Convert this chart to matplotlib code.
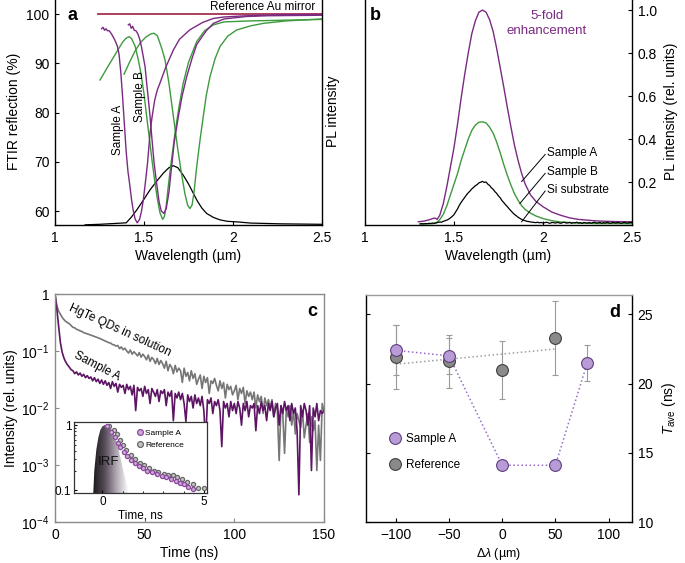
import numpy as np
import matplotlib
matplotlib.use("Agg")
import matplotlib.pyplot as plt
from matplotlib.colors import LinearSegmentedColormap
from matplotlib.ticker import FixedLocator, NullLocator, NullFormatter

plt.rcParams['font.family'] = ['Liberation Sans', 'DejaVu Sans']
plt.rcParams['font.size'] = 10
plt.rcParams['mathtext.fontset'] = 'custom'
plt.rcParams['mathtext.rm'] = 'Liberation Sans'
plt.rcParams['mathtext.it'] = 'Liberation Sans:italic'
plt.rcParams['mathtext.sf'] = 'Liberation Sans'
plt.rcParams['xtick.direction'] = 'in'
plt.rcParams['ytick.direction'] = 'in'
plt.rcParams['xtick.major.size'] = 3
plt.rcParams['ytick.major.size'] = 3
plt.rcParams['xtick.major.pad'] = 4
plt.rcParams['ytick.major.pad'] = 4
plt.rcParams['axes.linewidth'] = 1.0

# ---------------- panel a data (FTIR reflection) ----------------
ref_au_x = [1.24, 2.5]
ref_au_y = [100.0, 100.0]

purpleA_x = [1.262, 1.270, 1.278, 1.286, 1.295, 1.305, 1.32, 1.335, 1.35, 1.36, 1.37, 1.38, 1.39, 1.40,
             1.41, 1.42, 1.43, 1.44, 1.45, 1.462, 1.475, 1.485, 1.496, 1.51, 1.52, 1.534, 1.545, 1.56,
             1.575, 1.59, 1.62, 1.665, 1.70, 1.758, 1.83, 1.89, 1.95, 2.05, 2.17, 2.3, 2.5]
purpleA_y = [97.0, 97.3, 96.7, 97.0, 96.6, 96.6, 95.8, 94.8, 93.5, 91.8, 88.0, 83.0, 77.5, 72.0,
             68.0, 65.3, 62.3, 60.0, 58.4, 57.6, 58.3, 59.8, 62.2, 66.5, 69.8, 75.8, 79.0, 82.5,
             84.6, 86.0, 89.0, 92.7, 94.9, 96.8, 98.3, 99.1, 99.4, 99.6, 99.75, 99.85, 99.9]

purpleB_x = [1.412, 1.42, 1.428, 1.436, 1.445, 1.455, 1.465, 1.475, 1.485, 1.495, 1.506, 1.515, 1.525,
             1.534, 1.545, 1.556, 1.571, 1.585, 1.597, 1.612, 1.625, 1.64, 1.655, 1.67, 1.693, 1.715,
             1.74, 1.77, 1.796, 1.815, 1.85, 1.89, 1.95, 2.077, 2.2, 2.35, 2.5]
purpleB_y = [97.8, 98.0, 97.1, 97.5, 96.7, 96.6, 96.0, 95.0, 93.5, 91.5, 89.3, 86.0, 82.5,
             79.2, 74.5, 70.0, 65.6, 61.8, 60.0, 59.5, 60.5, 63.8, 69.0, 74.0, 79.2, 83.5,
             87.3, 91.0, 93.8, 94.8, 96.6, 98.1, 99.0, 99.5, 99.65, 99.7, 99.75]

greenA_x = [1.253, 1.30, 1.35, 1.38, 1.40, 1.416, 1.43, 1.45, 1.468, 1.48, 1.49, 1.50, 1.515, 1.53,
            1.545, 1.562, 1.575, 1.59, 1.605, 1.615, 1.625, 1.636, 1.65, 1.674, 1.695, 1.72, 1.75,
            1.796, 1.84, 1.89, 1.95, 2.1, 2.5]
greenA_y = [86.6, 89.5, 92.5, 94.3, 95.1, 95.4, 95.0, 93.5, 90.7, 88.5, 86.2, 83.8, 79.2, 74.8,
            70.3, 65.6, 62.5, 59.6, 58.3, 58.9, 61.2, 64.9, 69.2, 75.8, 80.8, 85.9, 90.2,
            94.4, 96.6, 97.8, 98.4, 98.6, 98.9]

greenB_x = [1.388, 1.42, 1.45, 1.48, 1.51, 1.535, 1.556, 1.575, 1.6, 1.618, 1.64, 1.665, 1.69, 1.71,
            1.73, 1.745, 1.758, 1.77, 1.78, 1.796, 1.815, 1.833, 1.85, 1.871, 1.9, 1.927, 1.97,
            2.02, 2.1, 2.17, 2.3, 2.5]
greenB_y = [87.8, 90.3, 92.5, 94.2, 95.3, 95.9, 96.1, 95.6, 93.0, 90.7, 86.0, 79.2, 72.5, 67.7,
            63.5, 61.2, 60.5, 61.2, 63.5, 69.0, 74.5, 79.2, 83.5, 87.3, 91.0, 93.4, 95.5,
            96.75, 97.6, 98.1, 98.6, 99.0]

plA_x = [1.169, 1.25, 1.35, 1.40, 1.41, 1.43, 1.459, 1.50, 1.534, 1.57, 1.609, 1.64, 1.665, 1.69,
         1.72, 1.75, 1.777, 1.80, 1.825, 1.852, 1.89, 1.927, 1.97, 2.02, 2.1, 2.264, 2.5]
plA_y = [57.2, 57.3, 57.5, 57.6, 58.0, 58.8, 60.2, 62.4, 64.3, 66.0, 67.7, 68.8, 69.2, 68.8,
         67.3, 65.5, 63.6, 62.0, 60.6, 59.5, 58.7, 58.2, 57.9, 57.8, 57.55, 57.4, 57.3]

# ---------------- panel b data (PL spectra) ----------------
plSampleA_x = [1.30, 1.33, 1.36, 1.384, 1.395, 1.405, 1.42, 1.44, 1.46, 1.48, 1.50, 1.52, 1.54, 1.56,
               1.58, 1.60, 1.62, 1.64, 1.66, 1.68, 1.70, 1.72, 1.74, 1.76, 1.78, 1.80, 1.82, 1.84,
               1.86, 1.88, 1.90, 1.93, 1.96, 2.00, 2.05, 2.10, 2.15, 2.20, 2.30, 2.40, 2.50]
plSampleA_y = [0.015, 0.018, 0.024, 0.031, 0.032, 0.026, 0.045, 0.10, 0.18, 0.27, 0.36, 0.47, 0.59, 0.70,
               0.80, 0.89, 0.95, 0.99, 1.0, 0.99, 0.955, 0.90, 0.82, 0.73, 0.64, 0.545, 0.455, 0.37,
               0.30, 0.24, 0.19, 0.14, 0.11, 0.085, 0.06, 0.045, 0.033, 0.026, 0.019, 0.016, 0.015]

plSampleB_x = [1.31, 1.35, 1.38, 1.40, 1.42, 1.44, 1.46, 1.48, 1.50, 1.52, 1.54, 1.56, 1.58, 1.60,
               1.62, 1.64, 1.66, 1.68, 1.70, 1.72, 1.74, 1.76, 1.78, 1.80, 1.82, 1.84, 1.86, 1.88,
               1.90, 1.93, 1.96, 2.00, 2.05, 2.10, 2.20, 2.30, 2.50]
plSampleB_y = [0.005, 0.005, 0.006, 0.01, 0.025, 0.05, 0.09, 0.14, 0.19, 0.24, 0.30, 0.35, 0.40, 0.44,
               0.465, 0.478, 0.48, 0.475, 0.455, 0.427, 0.385, 0.335, 0.28, 0.23, 0.185, 0.145, 0.115, 0.09,
               0.072, 0.055, 0.042, 0.03, 0.02, 0.014, 0.009, 0.007, 0.006]

si_start, si_step = 1.31, 0.01
si_y = [0.005, 0.006, 0.005, 0.007, 0.006, 0.008, 0.007, 0.009, 0.008, 0.010,
        0.012, 0.014, 0.013, 0.017, 0.020, 0.023, 0.027, 0.033, 0.040, 0.048,
        0.062, 0.075, 0.092, 0.105, 0.117, 0.128, 0.140, 0.150, 0.158, 0.168,
        0.175, 0.183, 0.188, 0.196, 0.199, 0.203, 0.198, 0.200, 0.190, 0.184,
        0.173, 0.166, 0.155, 0.147, 0.135, 0.126, 0.113, 0.104, 0.094, 0.085,
        0.075, 0.066, 0.057, 0.049, 0.043, 0.036, 0.031, 0.026, 0.022, 0.020,
        0.017, 0.016, 0.014, 0.013, 0.012,
        0.011, 0.013, 0.010, 0.012, 0.009, 0.011, 0.013, 0.010, 0.008, 0.012,
        0.011, 0.009, 0.012, 0.010, 0.008, 0.011, 0.013, 0.009, 0.010, 0.012,
        0.008, 0.011, 0.010, 0.013, 0.009, 0.011, 0.007, 0.012, 0.010, 0.009,
        0.012, 0.008, 0.011, 0.013, 0.009, 0.010, 0.012, 0.008, 0.011, 0.009,
        0.013, 0.010, 0.008, 0.012, 0.011, 0.009, 0.013, 0.010, 0.008, 0.011,
        0.012, 0.009, 0.010, 0.012, 0.011]

# ---------------- panel c data (decays, 1 ns steps) ----------------
hgte_solution = [1.0, 0.63, 0.5, 0.44, 0.39, 0.355, 0.33, 0.315, 0.3, 0.28,
                 0.26, 0.255, 0.24, 0.235, 0.225, 0.22, 0.21, 0.205, 0.2, 0.195,
                 0.19, 0.185, 0.18, 0.175, 0.17, 0.166, 0.16, 0.155, 0.15, 0.145,
                 0.14, 0.138, 0.13, 0.128, 0.122, 0.125, 0.11, 0.118, 0.105, 0.112,
                 0.1, 0.092, 0.104, 0.088, 0.097, 0.09, 0.082, 0.094, 0.078, 0.088,
                 0.08, 0.07, 0.085, 0.066, 0.077, 0.071, 0.06, 0.074, 0.058, 0.068,
                 0.06, 0.05, 0.066, 0.045, 0.058, 0.052, 0.04, 0.056, 0.043, 0.05,
                 0.045, 0.028, 0.05, 0.036, 0.042, 0.03, 0.045, 0.033, 0.04, 0.026,
                 0.032, 0.038, 0.022, 0.036, 0.028, 0.034, 0.018, 0.03, 0.027, 0.033,
                 0.025, 0.02, 0.03, 0.022, 0.028, 0.015, 0.026, 0.021, 0.024, 0.017,
                 0.02, 0.025, 0.014, 0.022, 0.018, 0.023, 0.012, 0.02, 0.016, 0.019,
                 0.014, 0.019, 0.01, 0.017, 0.013, 0.016, 0.008, 0.015, 0.011, 0.014,
                 0.01, 0.014, 0.007, 0.012, 0.009, 0.0012, 0.011, 0.008, 0.0016, 0.01,
                 0.007, 0.011, 0.005, 0.009, 0.0035, 0.008, 0.006, 0.0045, 0.009, 0.003,
                 0.005, 0.008, 0.0025, 0.007, 0.004, 0.006, 0.0008, 0.005, 0.0012, 0.012,
                 0.009]
sampleA_decay = [1.0, 0.55, 0.28, 0.14, 0.095, 0.075, 0.064, 0.057, 0.052, 0.047,
                 0.045, 0.04, 0.043, 0.038, 0.041, 0.036, 0.039, 0.034, 0.037, 0.033,
                 0.035, 0.03, 0.034, 0.029, 0.032, 0.027, 0.031, 0.026, 0.03, 0.025,
                 0.028, 0.022, 0.029, 0.024, 0.027, 0.019, 0.026, 0.023, 0.025, 0.018,
                 0.026, 0.021, 0.024, 0.017, 0.025, 0.009, 0.023, 0.02, 0.022, 0.016,
                 0.024, 0.018, 0.021, 0.012, 0.022, 0.019, 0.016, 0.021, 0.013, 0.02,
                 0.018, 0.021, 0.011, 0.019, 0.016, 0.02, 0.006, 0.018, 0.015, 0.019,
                 0.014, 0.018, 0.012, 0.0058, 0.017, 0.013, 0.016, 0.01, 0.017, 0.012,
                 0.015, 0.011, 0.016, 0.009, 0.0025, 0.014, 0.012, 0.015, 0.008, 0.013,
                 0.011, 0.014, 0.009, 0.0021, 0.013, 0.01, 0.012, 0.007, 0.013, 0.009,
                 0.012, 0.008, 0.013, 0.01, 0.005, 0.012, 0.009, 0.013, 0.007, 0.011,
                 0.01, 0.012, 0.004, 0.011, 0.008, 0.013, 0.009, 0.011, 0.006, 0.012,
                 0.009, 0.013, 0.007, 0.01, 0.012, 0.005, 0.011, 0.008, 0.013, 0.009,
                 0.011, 0.006, 0.012, 0.008, 0.01, 0.004, 0.0003, 0.011, 0.007, 0.012,
                 0.009, 0.005, 0.011, 0.0008, 0.01, 0.007, 0.012, 0.006, 0.009, 0.008,
                 0.009]

# inset data
inset_A_t = [0.22, 0.44, 0.6, 0.75, 0.88, 1.04, 1.21, 1.4, 1.62, 1.78, 1.99, 2.19, 2.43, 2.68,
             2.92, 3.14, 3.37, 3.61, 3.82, 4.04, 4.23, 4.44]
inset_A_i = [0.97, 0.79, 0.66, 0.54, 0.46, 0.39, 0.34, 0.29, 0.26, 0.234, 0.215, 0.198, 0.187, 0.176,
             0.164, 0.157, 0.148, 0.138, 0.13, 0.124, 0.112, 0.103]
inset_R_t = [0.3, 0.56, 0.72, 0.85, 1.01, 1.18, 1.4, 1.62, 1.83, 2.06, 2.27, 2.52, 2.76, 3.01,
             3.25, 3.46, 3.66, 3.9, 4.15, 4.48, 4.72, 5.0]
inset_R_i = [0.97, 0.84, 0.73, 0.60, 0.49, 0.41, 0.345, 0.296, 0.263, 0.24, 0.215, 0.198, 0.187, 0.174,
             0.17, 0.17, 0.16, 0.148, 0.134, 0.126, 0.106, 0.106]
irf_t = [-0.45, -0.4, -0.3, -0.2, -0.1, 0.0, 0.1, 0.2, 0.3, 0.4, 0.5, 0.6, 0.7, 0.8, 0.9, 1.0, 1.1, 1.2, 1.3]
irf_i = [0.09, 0.2, 0.42, 0.65, 0.85, 0.96, 1.0, 1.0, 0.97, 0.9, 0.8, 0.68, 0.55, 0.42, 0.3, 0.22, 0.16, 0.12, 0.09]

# ---------------- panel d data ----------------
d_sampleA_x = [-100, -50, 0, 50, 80]
d_sampleA_y = [22.4, 22.0, 14.1, 14.1, 21.5]
d_sampleA_err = [1.8, 1.3, 0.0, 0.0, 1.3]
d_ref_x = [-100, -50, 0, 50]
d_ref_y = [21.9, 21.6, 21.0, 23.3]
d_ref_err = [2.3, 1.9, 2.1, 2.7]
d_fit_x = [-100, 50]
d_fit_y = [21.4, 22.5]

# ---------------- colours ----------------
PURPLE = '#7a2a82'
GREEN = '#3d9a3d'
MAROON = '#a53050'
DPURPLE = '#5c1463'
GREY = '#767676'

fig = plt.figure(figsize=(6.85, 5.63), dpi=100)
W, H = 685.0, 563.0


def ax_px(l, t, r, b):
    return fig.add_axes([l / W, 1 - b / H, (r - l) / W, (b - t) / H])


# ======== panel a ========
ax = ax_px(55, -2, 322, 225)
ax.plot(ref_au_x, ref_au_y, color=MAROON, lw=1.3)
ax.plot(plA_x, plA_y, color='black', lw=0.9)
ax.plot(greenA_x, greenA_y, color=GREEN, lw=1.0)
ax.plot(greenB_x, greenB_y, color=GREEN, lw=1.0)
ax.plot(purpleA_x, purpleA_y, color=PURPLE, lw=1.0)
ax.plot(purpleB_x, purpleB_y, color=PURPLE, lw=1.0)
ax.set_xlim(1, 2.5)
ax.set_ylim(57.16, 103.25)
ax.xaxis.set_major_locator(FixedLocator([1, 1.5, 2, 2.5]))
ax.set_xticklabels(['1', '1.5', '2', '2.5'])
ax.yaxis.set_major_locator(FixedLocator([60, 70, 80, 90, 100]))
ax.set_xlabel('Wavelength (µm)', labelpad=3)
ax.set_ylabel('FTIR reflection (%)', labelpad=4)
ax.text(2.46, 101.45, 'Reference Au mirror', ha='right', va='center', fontsize=8.5)
ax.text(1.356, 76.4, 'Sample A', rotation=90, ha='center', va='center', fontsize=8.5)
ax.text(1.478, 83.2, 'Sample B', rotation=90, ha='center', va='center', fontsize=8.5)
ax.text(0.064, 0.925, 'a', transform=ax.transAxes, fontsize=13, fontweight='bold', ha='center', va='center')

# ======== panel b ========
bx = ax_px(365, -2, 632, 225)
si_x = [si_start + si_step * i for i in range(len(si_y))]
bx.plot(plSampleA_x, plSampleA_y, color=PURPLE, lw=1.0)
bx.plot(plSampleB_x, plSampleB_y, color=GREEN, lw=1.0)
bx.plot(si_x, si_y, color='black', lw=0.9)
bx.set_xlim(1, 2.5)
bx.set_ylim(0, 1.056)
bx.xaxis.set_major_locator(FixedLocator([1, 1.5, 2, 2.5]))
bx.set_xticklabels(['1', '1.5', '2', '2.5'])
bx.yaxis.tick_right()
bx.yaxis.set_label_position('right')
bx.yaxis.set_major_locator(FixedLocator([0.2, 0.4, 0.6, 0.8, 1.0]))
bx.set_yticklabels(['0.2', '0.4', '0.6', '0.8', '1.0'])
bx.tick_params(axis='y', left=False, right=True)
bx.set_xlabel('Wavelength (µm)', labelpad=3)
bx.set_ylabel('PL intensity (rel. units)', labelpad=5)
bx.text(-0.12, 0.5, 'PL intensity', rotation=90, transform=bx.transAxes, ha='center', va='center')
bx.text(2.02, 0.937, '5-fold\nenhancement', color=PURPLE, ha='center', va='center', fontsize=9.5,
        linespacing=1.3)
for lbl, ty, (x0, y0) in [('Sample A', 0.333, (1.88, 0.202)),
                          ('Sample B', 0.245, (1.87, 0.10)),
                          ('Si substrate', 0.163, (1.88, 0.015))]:
    bx.plot([x0, 2.012], [y0, ty - 0.005], color='black', lw=0.7)
    bx.text(2.025, ty, lbl, ha='left', va='center', fontsize=8.5)
bx.text(0.037, 0.925, 'b', transform=bx.transAxes, fontsize=13, fontweight='bold', ha='center', va='center')

# ======== panel c ========
cx = ax_px(55, 294, 324, 522)
cx.plot(list(range(len(hgte_solution))), hgte_solution, color=GREY, lw=1.2)
cx.plot(list(range(len(sampleA_decay))), sampleA_decay, color=DPURPLE, lw=1.2)
cx.set_yscale('log')
cx.set_xlim(0, 150)
cx.set_ylim(1e-4, 1)
cx.yaxis.set_major_locator(FixedLocator([1e-4, 1e-3, 1e-2, 1e-1, 1]))
cx.yaxis.set_minor_locator(NullLocator())
cx.set_yticklabels([r'10$^{-4}$', r'10$^{-3}$', r'10$^{-2}$', r'10$^{-1}$', '1'])
cx.xaxis.set_major_locator(FixedLocator([0, 50, 100, 150]))
for sp in cx.spines.values():
    sp.set_color('#8a8a8a')
cx.tick_params(colors='#8a8a8a', labelcolor='black')
cx.set_xlabel('Time (ns)', labelpad=3)
cx.set_ylabel('Intensity (rel. units)', labelpad=2)
cx.text(36.2, 0.233, 'HgTe QDs in solution', rotation=-24.5, rotation_mode='anchor',
        ha='center', va='center', fontsize=8.5)
cx.text(23.7, 0.055, 'Sample A', rotation=-27.5, rotation_mode='anchor',
        ha='center', va='center', fontsize=8.5)
cx.text(0.955, 0.925, 'c', transform=cx.transAxes, fontsize=13, fontweight='bold', ha='center', va='center')

# inset
ix = ax_px(74, 422, 207, 493)
ix.set_yscale('log')
cmap = LinearSegmentedColormap.from_list('irf', ['#1c1c1c', '#5a4f5e', '#b5aeb8', '#ffffff'])
fb = ix.fill_between(irf_t, 0.01, irf_i, color='none', lw=0)
grad = np.linspace(0, 1, 256).reshape(1, -1)
im = ix.imshow(grad, extent=[irf_t[0], irf_t[-1], 0.05, 1.2], aspect='auto', cmap=cmap, zorder=1,
               interpolation='bilinear')
im.set_clip_path(fb.get_paths()[0], ix.transData)
ix.set_xlim(-1.4, 5.15)
ix.set_ylim(0.09, 1.12)
ix.plot(inset_R_t, inset_R_i, 'o', ms=3.0, mfc='#c4c4c4', mec='#686868', mew=0.9, ls='none',
        label='Reference', zorder=3)
ix.plot(inset_A_t, inset_A_i, 'o', ms=3.0, mfc='#cfa9dc', mec='#8c4b9c', mew=0.9, ls='none',
        label='Sample A', zorder=4)
h, l = ix.get_legend_handles_labels()
ix.legend(h[::-1], l[::-1], loc='upper left', bbox_to_anchor=(0.44, 0.97), frameon=False, fontsize=6,
          handlelength=0.6, handletextpad=0.3, borderpad=0.1, labelspacing=0.45, markerscale=1.4)
ix.text(0.3, 0.27, 'IRF', ha='center', va='center', fontsize=9.5, color='#111111', zorder=5)
ix.xaxis.set_major_locator(FixedLocator([0, 5]))
ix.xaxis.set_minor_locator(FixedLocator([1, 2, 3, 4]))
ix.yaxis.set_major_locator(FixedLocator([0.1, 1]))
ix.yaxis.set_minor_locator(FixedLocator([0.2, 0.3, 0.4, 0.5, 0.6, 0.7, 0.8, 0.9]))
ix.yaxis.set_minor_formatter(NullFormatter())
ix.set_yticklabels(['0.1', '1'])
ix.set_xticklabels(['0', '5'])
ix.tick_params(labelsize=8.5, length=2.5, pad=2)
ix.tick_params(which='minor', length=1.5)
ix.set_xlabel('Time, ns', fontsize=8.5, labelpad=1)
for sp in ix.spines.values():
    sp.set_color('#333333')
    sp.set_linewidth(0.9)

# ======== panel d ========
dx = ax_px(366, 295, 632, 522)
dx.plot(d_fit_x, d_fit_y, ls=':', color='#a0a0a0', lw=1.1, zorder=1)
dx.plot(d_sampleA_x, d_sampleA_y, ls=':', color='#9a6cc4', lw=1.1, zorder=1)
dx.errorbar(d_ref_x, d_ref_y, yerr=d_ref_err, fmt='none', ecolor='#9a9a9a', elinewidth=0.8,
            capsize=2, capthick=0.8, zorder=2)
dx.errorbar(d_sampleA_x, d_sampleA_y, yerr=d_sampleA_err, fmt='none', ecolor='#9a9a9a', elinewidth=0.8,
            capsize=2, capthick=0.8, zorder=2)
dx.plot(d_ref_x, d_ref_y, 'o', ms=8.5, mfc='#8a8a8a', mec='#3e3e3e', mew=0.8, ls='none', zorder=3,
        label='Reference')
dx.plot(d_sampleA_x, d_sampleA_y, 'o', ms=8.5, mfc='#b99bd8', mec='#5e3f7c', mew=0.8, ls='none', zorder=4,
        label='Sample A')
h, l = dx.get_legend_handles_labels()
dx.legend(h[::-1], l[::-1], loc='upper left', bbox_to_anchor=(0.06, 0.43), frameon=False, fontsize=8.5,
          handlelength=0.8, handletextpad=0.5, labelspacing=1.2, borderpad=0.2)
dx.set_xlim(-128, 122)
dx.set_ylim(10, 26.4)
dx.xaxis.set_major_locator(FixedLocator([-100, -50, 0, 50, 100]))
dx.set_xticklabels(['\u2212100', '\u221250', '0', '50', '100'])
dx.yaxis.set_major_locator(FixedLocator([10, 15, 20, 25]))
dx.yaxis.tick_right()
dx.yaxis.set_label_position('right')
dx.tick_params(axis='y', left=True, right=True, labelleft=False, labelright=True)
dx.spines['top'].set_color('#9a9a9a')
dx.set_xlabel(r'$\Delta\lambda$ (µm)', fontsize=9, labelpad=3)
dx.set_ylabel(r'$T_{\rm ave}$ (ns)', labelpad=5)
dx.text(0.935, 0.925, 'd', transform=dx.transAxes, fontsize=13, fontweight='bold', ha='center', va='center')

fig.savefig('out.png', dpi=100)
